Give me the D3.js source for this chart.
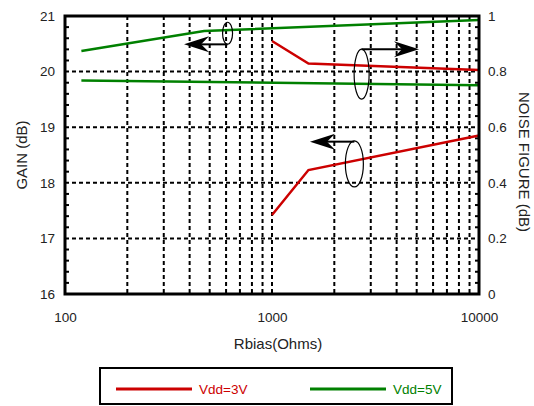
<!DOCTYPE html>
<html><head><meta charset="utf-8">
<script src="https://cdn.jsdelivr.net/npm/d3@7"></script>
<style>
html,body{margin:0;padding:0;background:#fff;}
text{font-family:"Liberation Sans",Arial,Helvetica,sans-serif;fill:#222;}
</style></head>
<body>
<svg id="chart" width="534" height="406"></svg>
<script>
// ---- data ----
const rbias3 = [1000, 1500, 10000];
const gain3  = [17.42, 18.23, 18.85];
const nf3    = [0.910, 0.829, 0.806];
const rbias5 = [120, 470, 10000];
const gain5  = [20.37, 20.73, 20.93];
const rbias5nf = [120, 10000];
const nf5    = [0.768, 0.751];
const xTicks = [100, 1000, 10000];
const xGrid  = [200,300,400,500,600,700,800,900,1000,2000,3000,4000,5000,6000,7000,8000,9000];
const gainTicks = [16,17,18,19,20,21];
const nfTicks   = [0,0.2,0.4,0.6,0.8,1];
const seriesNames = ["Vdd=3V","Vdd=5V"];
const seriesColors = ["#cc0000","#008000"];
// annotations: ellipse centre (R, value, axis) and arrow tip R
const annAxis   = ["gain","nf","gain"];
const annR      = [610, 2710, 2500];
const annVal    = [20.69, 0.791, 18.34];
const annArrowVal = [20.49, 0.88, 18.74];
const annTipR   = [376, 5130, 1526];

// ---- layout ----
const L=65, R=479, T=16, B=294;
const svg = d3.select("#chart");
const x = d3.scaleLog().domain([100,10000]).range([L,R]);
const yG = d3.scaleLinear().domain([16,21]).range([B,T]);
const yN = d3.scaleLinear().domain([0,1]).range([B,T]);

// grid
svg.append("g").selectAll("line").data(xGrid).join("line")
  .attr("x1",d=>x(d)).attr("x2",d=>x(d)).attr("y1",T).attr("y2",B)
  .attr("stroke","#000").attr("stroke-width",2).attr("stroke-dasharray","4,3");
svg.append("g").selectAll("line").data(gainTicks.filter(d=>d>16&&d<21)).join("line")
  .attr("y1",d=>yG(d)).attr("y2",d=>yG(d)).attr("x1",L).attr("x2",R)
  .attr("stroke","#000").attr("stroke-width",2).attr("stroke-dasharray","4,3");

// minor ticks inside left/right edges
const minor = d3.range(16.2,21,0.2).filter(d=>Math.abs(d-Math.round(d))>0.05);
svg.append("g").selectAll("line").data(minor).join("line")
  .attr("x1",L).attr("x2",L+4).attr("y1",d=>yG(d)).attr("y2",d=>yG(d))
  .attr("stroke","#000").attr("stroke-width",2);
svg.append("g").selectAll("line").data(minor).join("line")
  .attr("x1",R-4).attr("x2",R).attr("y1",d=>yG(d)).attr("y2",d=>yG(d))
  .attr("stroke","#000").attr("stroke-width",2);

// series lines
const lineG = d3.line().x(d=>x(d[0])).y(d=>yG(d[1]));
const lineN = d3.line().x(d=>x(d[0])).y(d=>yN(d[1]));
const seriesData = [
  {p: d3.zip(rbias3,gain3), f: lineG, c: seriesColors[0]},
  {p: d3.zip(rbias3,nf3),   f: lineN, c: seriesColors[0]},
  {p: d3.zip(rbias5,gain5), f: lineG, c: seriesColors[1]},
  {p: d3.zip(rbias5nf,nf5), f: lineN, c: seriesColors[1]}
];
svg.append("g").selectAll("path").data(seriesData).join("path")
  .attr("d",d=>d.f(d.p)).attr("fill","none").attr("stroke",d=>d.c).attr("stroke-width",2.5);

// frame
svg.append("rect").attr("x",L).attr("y",T).attr("width",R-L).attr("height",B-T)
  .attr("fill","none").attr("stroke","#000").attr("stroke-width",3);

// axes labels (ticks)
const xAxis = d3.axisBottom(x).tickValues(xTicks).tickFormat(d3.format("d")).tickSize(0).tickPadding(0);
const gx = svg.append("g").attr("transform",`translate(0,${B+28})`).call(xAxis);
const yAxisL = d3.axisLeft(yG).tickValues(gainTicks).tickFormat(d3.format("d")).tickSize(0).tickPadding(0);
const gl = svg.append("g").attr("transform",`translate(${L-10},0)`).call(yAxisL);
const yAxisR = d3.axisRight(yN).tickValues(nfTicks).tickFormat(d=>d===0||d===1?d3.format("d")(d):d3.format(".1f")(d)).tickSize(0).tickPadding(0);
const gr = svg.append("g").attr("transform",`translate(${R+9},0)`).call(yAxisR);
[gx,gl,gr].forEach(g=>{g.select(".domain").remove();
  g.selectAll("text").style("font-family",'"Liberation Sans",Arial,sans-serif').style("font-size","13.5px").style("fill","#222");});
gx.selectAll("text").attr("dy","0");

// axis titles
svg.append("text").attr("x",(L+R)/2+6).attr("y",349).attr("text-anchor","middle")
  .style("font-size","15px").text("Rbias(Ohms)");
svg.append("text").attr("transform",`translate(27,${(T+B)/2}) rotate(-90)`).attr("text-anchor","middle")
  .style("font-size","15px").text("GAIN (dB)");
svg.append("text").attr("transform",`translate(519,${(T+B)/2+7}) rotate(90)`).attr("text-anchor","middle")
  .style("font-size","15px").text("NOISE FIGURE (dB)");

// annotations
const ry = [11, 25, 23], rx = [5, 7.5, 9];
annAxis.forEach((a,i)=>{
  const ys = a==="gain"?yG:yN;
  const cx = x(annR[i]), cy = ys(annVal[i]), ay = ys(annArrowVal[i]), tx = x(annTipR[i]);
  svg.append("ellipse").attr("cx",cx).attr("cy",cy).attr("rx",rx[i]).attr("ry",ry[i])
    .attr("fill","none").attr("stroke","#000").attr("stroke-width",1.2);
  const dir = tx<cx?1:-1; // 1 = pointing left
  const back = tx+dir*25, notch = tx+dir*17;
  svg.append("line").attr("x1",cx).attr("x2",notch).attr("y1",ay).attr("y2",ay)
    .attr("stroke","#000").attr("stroke-width",2);
  svg.append("path").attr("d",`M${tx},${ay}L${back},${ay-8}L${notch},${ay}L${back},${ay+8}Z`)
    .attr("fill","#000");
});

// legend
svg.append("rect").attr("x",100).attr("y",368).attr("width",352).attr("height",36)
  .attr("fill","none").attr("stroke","#000").attr("stroke-width",2);
const legX = [116, 310];
seriesNames.forEach((n,i)=>{
  svg.append("line").attr("x1",legX[i]).attr("x2",legX[i]+76).attr("y1",389).attr("y2",389)
    .attr("stroke",seriesColors[i]).attr("stroke-width",3);
  svg.append("text").attr("x",legX[i]+83).attr("y",393.5).style("font-size","13.5px")
    .style("fill",seriesColors[i]).text(n);
});
</script>
</body></html>
